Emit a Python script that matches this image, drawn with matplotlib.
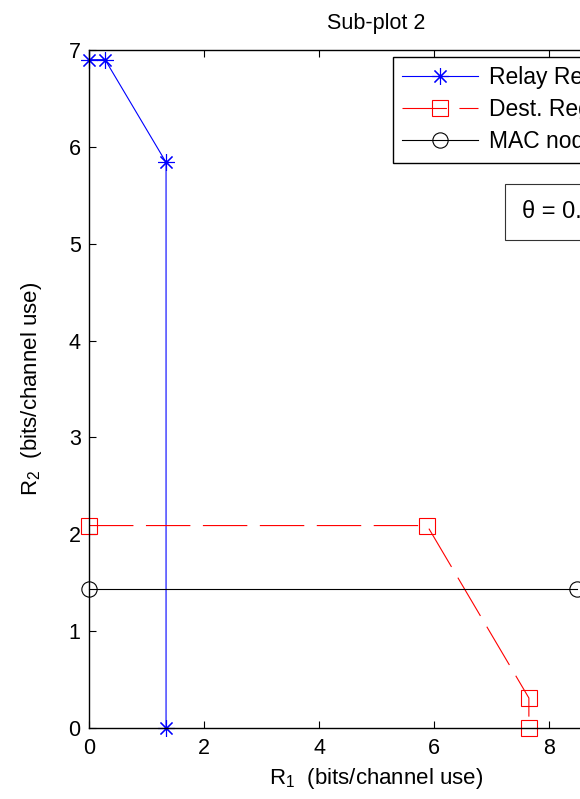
import numpy as np
import matplotlib
matplotlib.use('Agg')
import matplotlib.pyplot as plt

plt.rcParams['font.family'] = ['Liberation Sans', 'DejaVu Sans']
plt.rcParams['mathtext.fontset'] = 'custom'
plt.rcParams['mathtext.rm'] = 'Liberation Sans'
plt.rcParams['mathtext.it'] = 'Liberation Sans'
plt.rcParams['lines.scale_dashes'] = False

# rate regions
relay_r1 = [0.0, 0.28, 1.34, 1.34]
relay_r2 = [6.90, 6.90, 5.84, 0.0]
dest_r1 = [0.0, 5.88, 7.65, 7.65]
dest_r2 = [2.09, 2.09, 0.31, 0.0]
mac_r1 = [0.0, 8.49]
mac_r2 = [1.44, 1.44]
labels = ['Relay Region', 'Dest. Region', 'MAC node']
theta_txt = '\u03b8 = 0.5'

W, H = 580, 799
fig = plt.figure(figsize=(W/100, H/100), dpi=100)
# axes run past the right edge (picture is cropped there)
ax = fig.add_axes([89/W, 71/H, 575/W, 678/H])

ax.plot(relay_r1, relay_r2, color='b', lw=0.8, marker=(8, 2, 0), ms=12,
        mec='b', mew=0.8, label=labels[0], clip_on=False)
ax.plot(dest_r1, dest_r2, color='r', lw=0.8, dashes=(32, 9), marker='s', ms=11,
        mfc='none', mec='r', mew=0.8, label=labels[1], clip_on=False)
ax.plot(mac_r1, mac_r2, color='k', lw=0.8, marker='o', ms=11,
        mfc='none', mec='k', mew=0.8, label=labels[2], clip_on=False)

ax.set_xlim(0, 10)
ax.set_ylim(0, 7)
ax.set_xticks([0, 2, 4, 6, 8, 10])
ax.set_yticks(range(0, 8))
ax.tick_params(direction='in', top=True, right=True, length=5, width=0.8,
               labelsize=15.5)
ax.tick_params(axis='x', pad=7)
ax.tick_params(axis='y', pad=6)
for s in ax.spines.values():
    s.set_linewidth(1.0)

ax.set_xlabel(r'R$_1$  (bits/channel use)', fontsize=16, labelpad=5)
ax.set_ylabel(r'R$_2$  (bits/channel use)', fontsize=16, labelpad=18)
ax.set_title('Sub-plot 2', fontsize=15.5, pad=15)

leg = ax.legend(loc='upper left', bbox_to_anchor=(0.5287, 0.9897),
                borderaxespad=0, fontsize=16.5, handlelength=3.3,
                handletextpad=0.5, borderpad=0.4, labelspacing=0.4,
                fancybox=False, framealpha=1, edgecolor='k')
leg.get_frame().set_linewidth(1.0)

fig.text(522/W, 1 - 212/H, theta_txt, fontsize=17, va='center', ha='left',
         bbox=dict(boxstyle='square,pad=0.7', fc='white', ec='#333333', lw=0.8))

plt.savefig('out.png', dpi=100)
